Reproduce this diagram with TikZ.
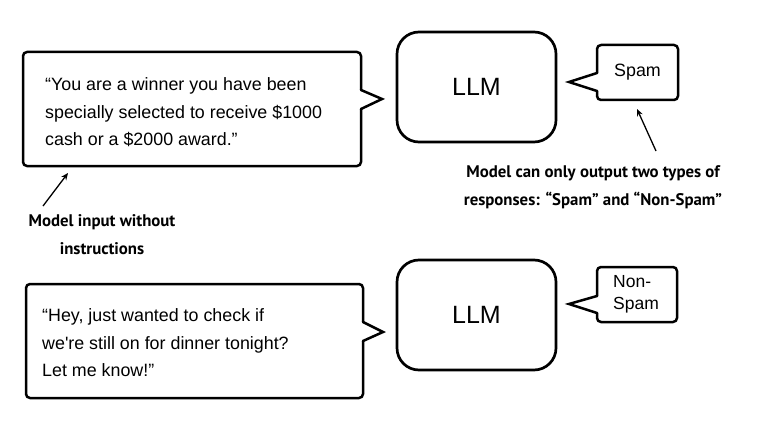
\documentclass[tikz,border=0pt]{standalone}
\usepackage{fontspec}
\setmainfont{Liberation Sans}
\newfontfamily\notefont{PT Sans}
\usetikzlibrary{arrows.meta}
\tikzset{
  boxarea/.style={inner sep=0pt, outer sep=0pt, rectangle},
  bubble/.style={line width=2.5pt, black, line cap=round, line join=round},
  tipline/.style={line width=2.5pt, black, line cap=round, line join=miter},
  msg/.style={inner sep=0pt, align=left, font=\fontsize{17.85}{27.5}\selectfont},
  llmbox/.style={draw, line width=2.7pt, rounded corners=22pt, minimum width=159pt, minimum height=110pt, inner sep=0pt, font=\fontsize{25}{30}\selectfont},
  note/.style={inner sep=0pt, align=center, font=\notefont\bfseries\fontsize{16.8}{28}\selectfont},
  pointer/.style={line width=1.3pt, -{Stealth[length=7pt,width=6pt]}},
}
\begin{document}
\begin{tikzpicture}[x=1pt,y=-1pt]
\useasboundingbox (0,0) rectangle (775,433);

% ---------- first example ----------
\node[boxarea, minimum width=338pt, minimum height=114pt] (in1) at (192,109) {};
\coordinate (p1a) at (361,90);
\coordinate (p1t) at (382,99);
\coordinate (p1b) at (361,109);
\draw[bubble, rounded corners=4pt] (p1b) -- (in1.south east) -- (in1.south west) -- (in1.north west) -- (in1.north east) -- (p1a);
\draw[tipline] (p1a) -- (p1t) -- (p1b);
\node[msg, anchor=west] (t1) at (45,112.5) {“You are a winner you have been\\specially selected to receive \$1000\\cash or a \$2000 award.”};

\node[llmbox] (llm1) at (476.5,87) {LLM};

\node[boxarea, minimum width=81pt, minimum height=55pt] (o1) at (637.5,72.5) {};
\coordinate (q1a) at (597,73);
\coordinate (q1t) at (569,82);
\coordinate (q1b) at (597,91);
\draw[bubble, rounded corners=4pt] (q1a) -- (o1.north west) -- (o1.north east) -- (o1.south east) -- (o1.south west) -- (q1b);
\draw[tipline] (q1a) -- (q1t) -- (q1b);
\node[msg, anchor=west] (s1) at (614,72) {Spam};

\node[note] (n1) at (102,235) {Model input without\\instructions};
\coordinate (a1s) at (43,206);
\coordinate (a1e) at (68,173);
\draw[pointer] (a1s) -- (a1e);

\node[note] (n2) at (593,187.5) {Model can only output two types of\\responses: “Spam” and “Non-Spam”};
\coordinate (a2s) at (656,151);
\coordinate (a2e) at (637,109);
\draw[pointer] (a2s) -- (a2e);

% ---------- second example ----------
\node[boxarea, minimum width=337pt, minimum height=114pt] (in2) at (194.5,341) {};
\coordinate (p2a) at (363,322);
\coordinate (p2t) at (383,332);
\coordinate (p2b) at (363,341);
\draw[bubble, rounded corners=4pt] (p2b) -- (in2.south east) -- (in2.south west) -- (in2.north west) -- (in2.north east) -- (p2a);
\draw[tipline] (p2a) -- (p2t) -- (p2b);
\node[msg, anchor=west] (t2) at (42,343) {“Hey, just wanted to check if\\we\textquotesingle re still on for dinner tonight?\\Let me know!”};

\node[llmbox] (llm2) at (476.5,315) {LLM};

\node[boxarea, minimum width=80pt, minimum height=55pt] (o2) at (637,294.5) {};
\coordinate (q2a) at (597,296);
\coordinate (q2t) at (569,304);
\coordinate (q2b) at (597,313);
\draw[bubble, rounded corners=4pt] (q2a) -- (o2.north west) -- (o2.north east) -- (o2.south east) -- (o2.south west) -- (q2b);
\draw[tipline] (q2a) -- (q2t) -- (q2b);
\node[msg, anchor=west, font=\fontsize{17.5}{22}\selectfont] (s2) at (613,294) {Non-\\Spam};
\end{tikzpicture}
\end{document}
